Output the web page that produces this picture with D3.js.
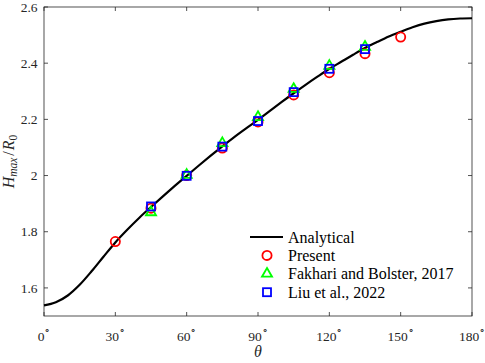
<!DOCTYPE html>
<html>
<head>
<meta charset="utf-8">
<script src="https://cdn.jsdelivr.net/npm/d3@7"></script>
<style>
  body { margin: 0; background: #fff; }
</style>
</head>
<body>
<svg id="chart" width="485" height="363" font-family="'Liberation Serif', 'Times New Roman', serif"></svg>
<script>
// analytical curve (theta in degrees)
const curveTheta = [0, 5, 10, 15, 20, 25, 30, 35, 40, 45, 50, 55, 60, 65, 70, 75, 80, 85, 90,
  95, 100, 105, 110, 115, 120, 125, 130, 135, 140, 145, 150, 155, 160, 165, 170, 175, 180];
const curveH = [1.538, 1.549, 1.573, 1.611, 1.659, 1.711, 1.762, 1.807, 1.849, 1.888, 1.926, 1.963, 1.999,
  2.035, 2.070, 2.104, 2.137, 2.168, 2.198, 2.230, 2.262, 2.293, 2.323, 2.352, 2.380, 2.405,
  2.430, 2.454, 2.475, 2.495, 2.512, 2.528, 2.541, 2.550, 2.556, 2.559, 2.560];

// simulation / literature points
const presentTheta = [30, 45, 60, 75, 90, 105, 120, 135, 150];
const presentH = [1.765, 1.884, 2.000, 2.098, 2.191, 2.287, 2.366, 2.434, 2.493];
const fakhariTheta = [45, 60, 75, 90, 105, 120, 135];
const fakhariH = [1.869, 2.002, 2.115, 2.208, 2.308, 2.390, 2.458];
const liuTheta = [45, 60, 75, 90, 105, 120, 135];
const liuH = [1.890, 1.999, 2.103, 2.194, 2.297, 2.380, 2.450];

const xTicks = [0, 30, 60, 90, 120, 150, 180];
const yTicks = [1.6, 1.8, 2.0, 2.2, 2.4, 2.6];
const legendLabels = ['Analytical', 'Present', 'Fakhari and Bolster, 2017', 'Liu et al., 2022'];

const margin = { top: 7, right: 13, bottom: 47, left: 44 };
const width = 485 - margin.left - margin.right;
const height = 363 - margin.top - margin.bottom;

const svg = d3.select('#chart');
const g = svg.append('g').attr('transform', 'translate(' + margin.left + ',' + margin.top + ')');

const x = d3.scaleLinear().domain([0, 180]).range([0, width]);
const y = d3.scaleLinear().domain([1.5, 2.6]).range([height, 0]);

const axisColor = '#262626';
const tickLen = 4;

// frame
g.append('rect')
  .attr('width', width).attr('height', height)
  .attr('fill', 'none').attr('stroke', axisColor).attr('stroke-width', 0.8);

// ticks inside, bottom/top and left/right
xTicks.forEach(function(t) {
  g.append('line').attr('x1', x(t)).attr('x2', x(t)).attr('y1', height).attr('y2', height - tickLen)
    .attr('stroke', axisColor).attr('stroke-width', 0.8);
  g.append('line').attr('x1', x(t)).attr('x2', x(t)).attr('y1', 0).attr('y2', tickLen)
    .attr('stroke', axisColor).attr('stroke-width', 0.8);
  const lab = g.append('text')
    .attr('x', x(t)).attr('y', height + 25)
    .attr('text-anchor', 'middle').attr('font-size', 13.5).attr('fill', axisColor);
  lab.append('tspan').text(t);
  lab.append('tspan').attr('dy', -8).attr('font-size', 10).text('\u2218');
});

yTicks.forEach(function(t) {
  g.append('line').attr('x1', 0).attr('x2', tickLen).attr('y1', y(t)).attr('y2', y(t))
    .attr('stroke', axisColor).attr('stroke-width', 0.8);
  g.append('line').attr('x1', width).attr('x2', width - tickLen).attr('y1', y(t)).attr('y2', y(t))
    .attr('stroke', axisColor).attr('stroke-width', 0.8);
  g.append('text')
    .attr('x', -6.5).attr('y', y(t) + 4.7)
    .attr('text-anchor', 'end').attr('font-size', 13.5).attr('fill', axisColor)
    .text(d3.format('~g')(t));
});

// axis labels
svg.append('text')
  .attr('x', margin.left + x(90)).attr('y', 357)
  .attr('text-anchor', 'middle').attr('font-size', 16).attr('font-style', 'italic').attr('fill', axisColor)
  .text('\u03b8');

const yl = svg.append('text')
  .attr('transform', 'translate(14,' + (margin.top + height / 2) + ') rotate(-90)')
  .attr('text-anchor', 'middle').attr('font-size', 16).attr('fill', axisColor);
yl.append('tspan').attr('font-style', 'italic').text('H');
yl.append('tspan').attr('font-style', 'italic').attr('font-size', 11.5).attr('dy', 3).text('max');
yl.append('tspan').attr('dy', -3).attr('dx', 2).text('/');
yl.append('tspan').attr('font-style', 'italic').attr('dx', 1).text('R');
yl.append('tspan').attr('font-size', 11.5).attr('dy', 3).text('0');

// analytical line
const curve = curveTheta.map(function(t, i) { return [t, curveH[i]]; });
g.append('path')
  .datum(curve)
  .attr('fill', 'none').attr('stroke', '#000').attr('stroke-width', 2.2)
  .attr('d', d3.line().x(function(d) { return x(d[0]); }).y(function(d) { return y(d[1]); }).curve(d3.curveMonotoneX));

// markers
const triPath = d3.symbol().type(d3.symbolTriangle).size(44);

g.selectAll('circle.present').data(presentTheta).enter().append('circle')
  .attr('class', 'present')
  .attr('cx', function(d) { return x(d); })
  .attr('cy', function(d, i) { return y(presentH[i]); })
  .attr('r', 4.6)
  .attr('fill', 'none').attr('stroke', '#ff0000').attr('stroke-width', 1.8);

g.selectAll('path.fak').data(fakhariTheta).enter().append('path')
  .attr('class', 'fak')
  .attr('transform', function(d, i) { return 'translate(' + x(d) + ',' + y(fakhariH[i]) + ')'; })
  .attr('d', triPath)
  .attr('fill', 'none').attr('stroke', '#00ff00').attr('stroke-width', 1.8);

g.selectAll('rect.liu').data(liuTheta).enter().append('rect')
  .attr('class', 'liu')
  .attr('x', function(d) { return x(d) - 4; })
  .attr('y', function(d, i) { return y(liuH[i]) - 4; })
  .attr('width', 8).attr('height', 8)
  .attr('fill', 'none').attr('stroke', '#0000ff').attr('stroke-width', 1.8);

// legend
const leg = svg.append('g').attr('transform', 'translate(250,237)');
const rowH = 18.4;
legendLabels.forEach(function(label, i) {
  const row = leg.append('g').attr('transform', 'translate(0,' + (i * rowH) + ')');
  if (i === 0) {
    row.append('line').attr('x1', 0).attr('x2', 33).attr('y1', 0).attr('y2', 0)
      .attr('stroke', '#000').attr('stroke-width', 2.2);
  } else if (i === 1) {
    row.append('circle').attr('cx', 17).attr('cy', 0).attr('r', 4.6)
      .attr('fill', 'none').attr('stroke', '#ff0000').attr('stroke-width', 1.8);
  } else if (i === 2) {
    row.append('path').attr('transform', 'translate(17,0)').attr('d', triPath)
      .attr('fill', 'none').attr('stroke', '#00ff00').attr('stroke-width', 1.8);
  } else {
    row.append('rect').attr('x', 13).attr('y', -4).attr('width', 8).attr('height', 8)
      .attr('fill', 'none').attr('stroke', '#0000ff').attr('stroke-width', 1.8);
  }
  row.append('text').attr('x', 38).attr('y', 5.5)
    .attr('font-size', 16).attr('fill', '#000').text(label);
});
</script>
</body>
</html>
